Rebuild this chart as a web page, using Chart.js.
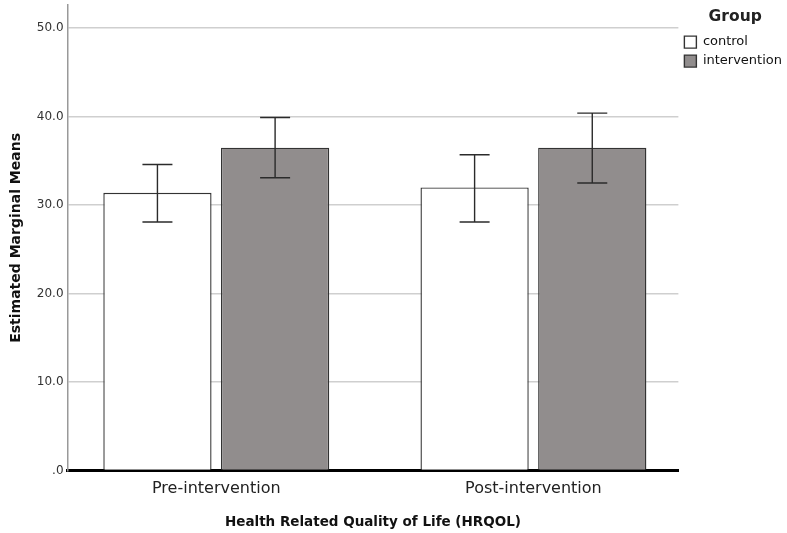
<!DOCTYPE html>
<html lang="en">
<head>
  <meta charset="UTF-8" />
  <title>HRQOL Estimated Marginal Means</title>
  <script src="https://cdn.jsdelivr.net/npm/chart.js"></script>
  <style>
    body { margin: 0; background: #fff; }
    .wrap { width: 787px; height: 533px; }
  </style>
</head>
<body>
<div class="wrap"><canvas id="chart" width="787" height="533"></canvas></div>
<script>
  // data
  const categories = ['Pre-intervention', 'Post-intervention'];
  const groups = ['control', 'intervention'];
  const controlMeans = [31.4, 32.0];
  const interventionMeans = [36.5, 36.5];
  const controlLow = [28.1, 28.1];
  const controlHigh = [34.6, 35.7];
  const interventionLow = [33.1, 32.5];
  const interventionHigh = [39.9, 40.4];
  const yTicks = [0, 10, 20, 30, 40, 50];

  const errors = [
    { low: controlLow, high: controlHigh },
    { low: interventionLow, high: interventionHigh }
  ];

  // categories sit at x = 0, 1 on a linear axis so the side margins can be set
  const toPoints = arr => arr.map((v, i) => ({ x: i, y: v }));

  // draws the CI whiskers on top of the bars
  const errorBars = {
    id: 'errorBars',
    afterDatasetsDraw(chart) {
      const ctx = chart.ctx;
      const y = chart.scales.y;
      ctx.save();
      ctx.strokeStyle = '#2b2b2b';
      ctx.lineWidth = 1.4;
      chart.data.datasets.forEach((ds, i) => {
        const meta = chart.getDatasetMeta(i);
        meta.data.forEach((bar, j) => {
          const top = y.getPixelForValue(errors[i].high[j]);
          const bot = y.getPixelForValue(errors[i].low[j]);
          const x = bar.x;
          ctx.beginPath();
          ctx.moveTo(x, top); ctx.lineTo(x, bot);
          ctx.moveTo(x - 15, top); ctx.lineTo(x + 15, top);
          ctx.moveTo(x - 15, bot); ctx.lineTo(x + 15, bot);
          ctx.stroke();
        });
      });
      ctx.restore();
    }
  };

  Chart.defaults.font.family = "'DejaVu Sans', sans-serif";
  Chart.defaults.color = '#222';

  new Chart(document.getElementById('chart'), {
    type: 'bar',
    data: {
      datasets: [
        {
          label: groups[0],
          data: toPoints(controlMeans),
          backgroundColor: '#ffffff',
          borderColor: '#333333',
          borderWidth: 1.4,
          categoryPercentage: 0.742,
          barPercentage: 0.92
        },
        {
          label: groups[1],
          data: toPoints(interventionMeans),
          backgroundColor: '#918d8d',
          borderColor: '#333333',
          borderWidth: 1.4,
          categoryPercentage: 0.742,
          barPercentage: 0.92
        }
      ]
    },
    options: {
      responsive: false,
      animation: false,
      layout: { padding: { top: 0, right: -5, bottom: 2, left: 4 } },
      plugins: {
        tooltip: { enabled: false },
        legend: {
          position: 'right',
          align: 'start',
          title: {
            display: true,
            text: 'Group',
            font: { size: 15.5, weight: 'bold' },
            padding: { top: 9, bottom: 2 }
          },
          labels: {
            boxWidth: 12,
            boxHeight: 12,
            padding: 6,
            font: { size: 13 },
            color: '#111'
          }
        }
      },
      scales: {
        x: {
          type: 'linear',
          min: -0.469,
          max: 1.457,
          offset: false,
          afterBuildTicks(scale) {
            scale.ticks = categories.map((c, i) => ({ value: i }));
          },
          grid: { display: false },
          border: { color: '#000', width: 3 },
          ticks: {
            font: { size: 16 },
            color: '#222',
            padding: 1,
            callback: v => categories[v]
          },
          title: {
            display: true,
            text: 'Health Related Quality of Life (HRQOL)',
            font: { size: 13.5, weight: 'bold' },
            color: '#111',
            padding: { top: 15, bottom: 0 }
          }
        },
        y: {
          min: 0,
          max: 52.6,
          afterBuildTicks(scale) {
            scale.ticks = yTicks.map(v => ({ value: v }));
          },
          grid: { color: '#cfcfcf', lineWidth: 1.5, drawTicks: false },
          border: { color: '#999', width: 1.5 },
          ticks: {
            font: { size: 12, lineHeight: 0.2 },
            color: '#333',
            padding: 4,
            callback: v => v === 0 ? '.0' : v.toFixed(1)
          },
          title: {
            display: true,
            text: 'Estimated Marginal Means',
            font: { size: 14, weight: 'bold' },
            color: '#111',
            padding: { bottom: 8 }
          }
        }
      }
    },
    plugins: [errorBars]
  });
</script>
</body>
</html>
